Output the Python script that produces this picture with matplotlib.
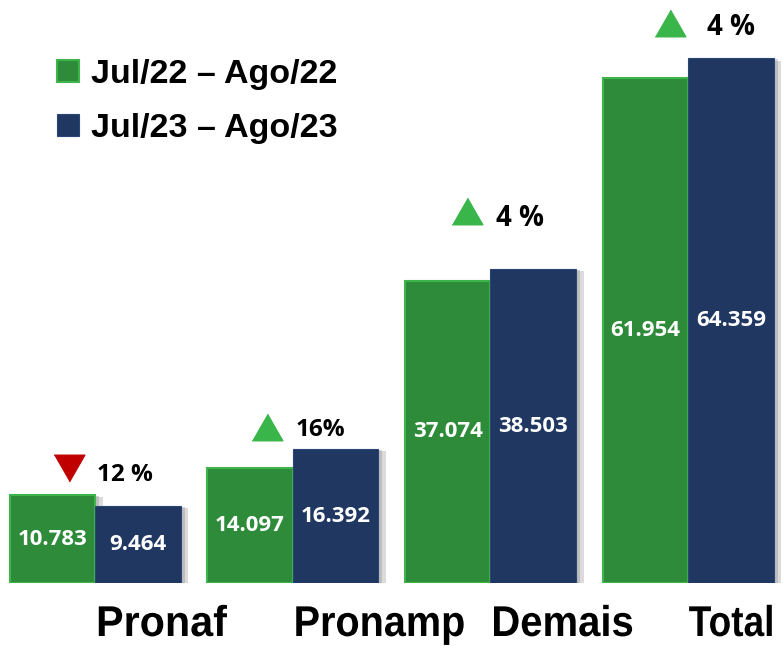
import matplotlib
matplotlib.use("Agg")
import matplotlib.pyplot as plt
import matplotlib.patheffects as pe
from matplotlib.patches import Patch
from matplotlib.transforms import Affine2D, offset_copy
import numpy as np

# ---- data ----
categories = ["Pronaf", "Pronamp", "Demais", "Total"]
series_names = ["Jul/22 – Ago/22", "Jul/23 – Ago/23"]
values_22 = [10783, 14097, 37074, 61954]
values_23 = [9464, 16392, 38503, 64359]
value_labels_22 = ["10.783", "14.097", "37.074", "61.954"]
value_labels_23 = ["9.464", "16.392", "38.503", "64.359"]
change_labels = ["12 %", "16%", "4 %", "4 %"]
change_up = [False, True, True, True]

# ---- style ----
GREEN = "#2E8B3A"
GREEN_EDGE = "#3DB54A"
NAVY = "#1F3761"
NAVY_EDGE = "#2A4676"
TRI_UP = "#3AB54A"
TRI_DOWN = "#C00000"


class HScale(pe.AbstractPathEffect):
    """Horizontally condense a text path around its right edge."""

    def __init__(self, sx):
        super().__init__()
        self.sx = sx

    def draw_path(self, renderer, gc, tpath, affine, rgbFace=None):
        ext = tpath.get_extents()
        a = ext.x1
        t = Affine2D().translate(-a, 0).scale(self.sx, 1).translate(a, 0)
        renderer.draw_path(gc, tpath, t + affine, rgbFace)


W, H, DPI = 783, 646, 100
fig = plt.figure(figsize=(W / DPI, H / DPI), dpi=DPI)
base_px = 583
ax = fig.add_axes([0, (H - base_px) / H, 1, base_px / H])
spacing_px = 197.7
first_px = 95
ax.set_xlim(-first_px / spacing_px, (W - first_px) / spacing_px)
px_per_unit = 0.00815
ax.set_ylim(0, base_px / px_per_unit)
ax.axis("off")

x = np.arange(len(categories))
bw = 85.5 / spacing_px

shadow = [pe.SimplePatchShadow(offset=(5.5, -1.5), shadow_rgbFace="#9a9a9a", alpha=0.35),
          pe.SimplePatchShadow(offset=(3, -0.5), shadow_rgbFace="#8a8a8a", alpha=0.35),
          pe.Normal()]

b1 = ax.bar(x - bw / 2, values_22, width=bw, color=GREEN, edgecolor=GREEN_EDGE,
            linewidth=1.5, zorder=2)
b2 = ax.bar(x + bw / 2, values_23, width=bw, color=NAVY, edgecolor=NAVY_EDGE,
            linewidth=0.8, zorder=3)
for r in list(b1) + list(b2):
    r.set_path_effects(shadow)

val_font = dict(family=["Open Sans", "DejaVu Sans"], fontweight="bold", color="white",
                fontsize=16)
for i in range(len(categories)):
    ax.text(x[i] - bw / 2, values_22[i] / 2, value_labels_22[i], ha="center", va="center",
            zorder=5, **val_font)
    ax.text(x[i] + bw / 2, values_23[i] / 2, value_labels_23[i], ha="center", va="center",
            zorder=5, **val_font)

# category labels: start just right of group centre, slightly condensed
cat_stretch = [0.96, 0.92, 0.93, 0.86]
cat_font = dict(fontsize=31, fontweight="bold", family=["Liberation Sans", "DejaVu Sans"],
                color="black")
renderer = fig.canvas.get_renderer()
for i, c in enumerate(categories):
    probe = ax.text(x[i], 0, c, ha="left", va="baseline", **cat_font)
    w = probe.get_window_extent(renderer=renderer).width
    probe.remove()
    ax.annotate(c, xy=(x[i], 0), xycoords="data",
                xytext=(1 + cat_stretch[i] * w, -53), textcoords="offset pixels",
                ha="right", va="baseline", annotation_clip=False,
                path_effects=[HScale(cat_stretch[i])], **cat_font)

# change markers (pixel offsets from group centre / top of tallest bar)
tri_offsets = [(-25.5, 27), (-25.5, 22.5), (-23.5, 58), (-18.5, 35.5)]
txt_offsets = [(2, 20.5), (3, 19), (6, 51), (19, 31)]
txt_sizes = [17.5, 17.5, 20, 20]
tri_up = [(-1, -0.87), (1, -0.87), (0, 0.87)]
tri_dn = [(-1, 0.87), (1, 0.87), (0, -0.87)]
for i in range(len(categories)):
    top = max(values_22[i], values_23[i])
    tx, ty = tri_offsets[i]
    tr = offset_copy(ax.transData, fig=fig, x=tx, y=ty, units="dots")
    ax.plot([x[i]], [top], linestyle="none", transform=tr,
            marker=tri_up if change_up[i] else tri_dn,
            markersize=22, color=TRI_UP if change_up[i] else TRI_DOWN, zorder=6,
            clip_on=False)
    ox, oy = txt_offsets[i]
    ax.annotate(change_labels[i], xy=(x[i], top), xycoords="data", xytext=(ox, oy),
                textcoords="offset pixels", ha="left", va="center",
                fontsize=txt_sizes[i], fontweight="bold",
                family=["Open Sans", "DejaVu Sans"], color="black", annotation_clip=False)

handles = [Patch(facecolor=GREEN, edgecolor=GREEN_EDGE, linewidth=1.5),
           Patch(facecolor=NAVY, edgecolor=NAVY_EDGE, linewidth=0.8)]
leg = ax.legend(handles, series_names, loc="upper left",
                bbox_to_anchor=(57 / W, 1 - 59 / base_px), bbox_transform=ax.transAxes,
                frameon=False, borderpad=0, borderaxespad=0, handlelength=0.64,
                handleheight=0.64, handletextpad=0.36, labelspacing=0.68,
                prop=dict(family="Liberation Sans", weight="bold", size=24.5))

fig.savefig("out.png", dpi=DPI)
